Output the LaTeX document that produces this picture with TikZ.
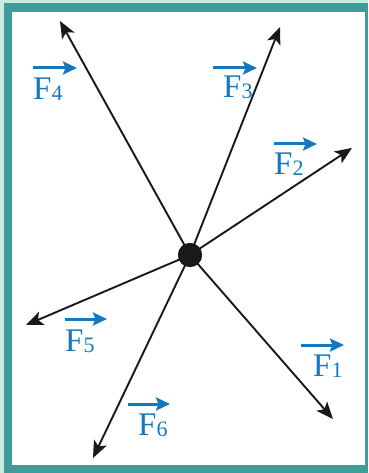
\documentclass[tikz,border=0pt]{standalone}
\usepackage{fontspec}
\setmainfont{Liberation Serif}
\usetikzlibrary{arrows.meta}
\definecolor{frameDark}{HTML}{3F9C9A}
\definecolor{frameLight}{HTML}{C9E9E1}
\definecolor{labBlue}{HTML}{1577BD}
\tikzset{
  force/.style={draw=black!90, line width=1.9pt, -{Stealth[length=17pt,width=14pt,inset=4pt]}},
  vecbar/.style={draw=labBlue, line width=3pt, -{Stealth[length=14pt,width=13pt,inset=2.5pt]}},
  flabel/.style={anchor=base west, inner sep=0pt, text=labBlue, font=\fontsize{33}{33}\selectfont},
}
\newcommand{\fsub}[1]{F\raisebox{-1pt}{\fontsize{22}{22}\selectfont #1}}
\begin{document}
\begin{tikzpicture}[x=1pt,y=-1pt]
\useasboundingbox (0,0) rectangle (368,473);
\fill[frameLight] (0,0) rectangle (368,473);
\fill[frameDark] (4,3) rectangle (368,473);
\fill[white] (12,12) rectangle (365,465);
\node[circle, fill=black!90, minimum size=24pt, inner sep=0pt] (O) at (190,255) {};
\coordinate (t1) at (333,419);
\coordinate (t2) at (352,148);
\coordinate (t3) at (280,27);
\coordinate (t4) at (60,21);
\coordinate (t5) at (26,325);
\coordinate (t6) at (93,458);
\foreach \i in {1,...,6} {\draw[force] (O.center) -- (t\i);}
\node[circle, fill=black!90, minimum size=24pt, inner sep=0pt] at (O) {};
% labels
\node[flabel] (L1) at (313,376) {\fsub{1}};
\node[flabel] (L2) at (274,175) {\fsub{2}};
\node[flabel] (L3) at (223,98) {\fsub{3}};
\node[flabel] (L4) at (33,100) {\fsub{4}};
\node[flabel] (L5) at (65,351) {\fsub{5}};
\node[flabel] (L6) at (138,435) {\fsub{6}};
\coordinate (a1s) at (301,345); \coordinate (a1e) at (344,345);
\coordinate (a2s) at (274,144); \coordinate (a2e) at (317,144);
\coordinate (a3s) at (213,68);  \coordinate (a3e) at (257,68);
\coordinate (a4s) at (33,68);   \coordinate (a4e) at (77,68);
\coordinate (a5s) at (65,319);  \coordinate (a5e) at (107,319);
\coordinate (a6s) at (128,404); \coordinate (a6e) at (170,404);
\foreach \i in {1,...,6} {\draw[vecbar] (a\i s) -- (a\i e);}
\end{tikzpicture}
\end{document}
